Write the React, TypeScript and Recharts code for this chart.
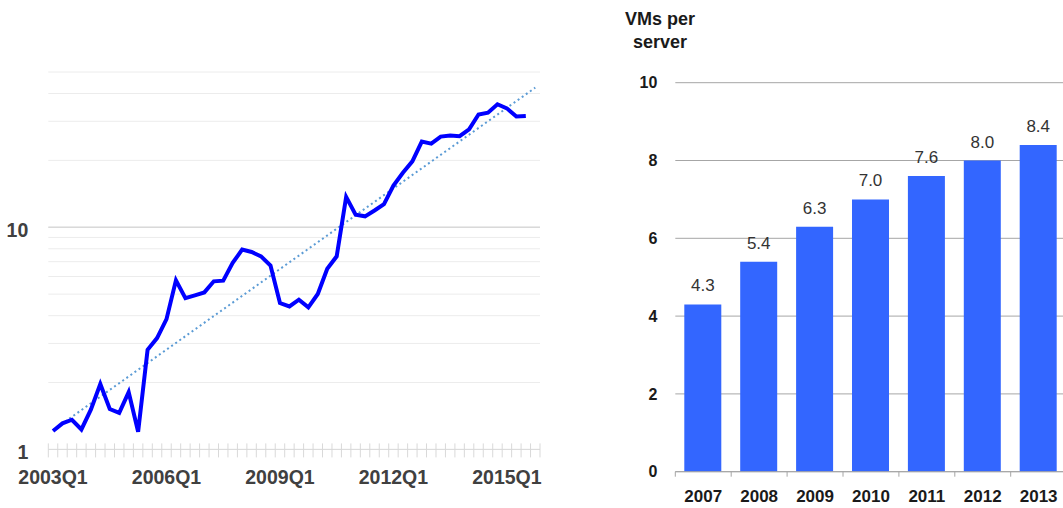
import React from "react";
import {
  LineChart,
  Line,
  XAxis,
  YAxis,
  CartesianGrid,
  ReferenceLine,
  BarChart,
  Bar,
  LabelList,
} from "recharts";

// left panel: quarterly index on a log axis
const years = [2003, 2004, 2005, 2006, 2007, 2008, 2009, 2010, 2011, 2012, 2013, 2014, 2015];
const quarterNames = ["Q1", "Q2", "Q3", "Q4"];
const quarters: string[] = years.flatMap((y) => quarterNames.map((q) => `${y}${q}`));

// 2003Q1 .. 2015Q3 (2015Q4 not reported)
const indexValues = [
  1.21, 1.31, 1.36, 1.23, 1.51, 1.97, 1.52, 1.46, 1.81, 1.2,
  2.81, 3.17, 3.86, 5.77, 4.8, 4.94, 5.09, 5.71, 5.75, 6.91,
  7.93, 7.74, 7.4, 6.72, 4.56, 4.4, 4.72, 4.36, 5.01, 6.51,
  7.4, 13.7, 11.4, 11.2, 11.9, 12.7, 15.4, 17.6, 19.8, 24.3,
  23.8, 25.6, 25.9, 25.7, 27.6, 32.2, 32.8, 35.8, 34.3, 31.5,
  31.7,
];

// exponential trend: first and last value only (straight on the log axis)
const trendEnds = [1.22, 42.5];

const logTicks = [1, 2, 3, 4, 5, 6, 7, 8, 9, 10, 20, 30, 40, 50];
const logLabels = [1, 10];

// right panel: VMs per server
const vmYears = ["2007", "2008", "2009", "2010", "2011", "2012", "2013"];
const vmValues = [4.3, 5.4, 6.3, 7.0, 7.6, 8.0, 8.4];
const vmTicks = [0, 2, 4, 6, 8, 10];

const lineData = quarters.map((q, i) => ({
  q,
  value: i < indexValues.length ? indexValues[i] : null,
  trend: i === 0 ? trendEnds[0] : i === quarters.length - 1 ? trendEnds[1] : null,
}));

const barData = vmYears.map((year, i) => ({ year, value: vmValues[i] }));

const FONT = "'Liberation Sans', Arial, sans-serif";

const LEFT_W = 560;
const LEFT_PLOT_L = 48.3;
const LEFT_PLOT_R = 540;
const LEFT_STEP = (LEFT_PLOT_R - LEFT_PLOT_L) / quarters.length;

const RIGHT_X = 600;
const RIGHT_W = 480;
const RIGHT_PLOT_L = 675.3;
const RIGHT_PLOT_R = 1066.6;
const RIGHT_STEP = (RIGHT_PLOT_R - RIGHT_PLOT_L) / vmYears.length;

const QuarterTick = (props: any) => {
  const { x, y, payload } = props;
  const index = props.index ?? payload.index;
  const half = LEFT_STEP / 2;
  return (
    <g>
      <line x1={x - half} x2={x - half} y1={y - 6} y2={y + 8} stroke="#d9d9d9" />
      {index === quarters.length - 1 && (
        <line x1={x + half} x2={x + half} y1={y - 6} y2={y + 8} stroke="#d9d9d9" />
      )}
      {index % 12 === 0 && (
        <text
          x={x}
          y={y + 35}
          textAnchor="middle"
          fontFamily={FONT}
          fontWeight="bold"
          fontSize={19.5}
          fill="#404040"
        >
          {payload.value}
        </text>
      )}
    </g>
  );
};

const LogTick = (props: any) => {
  const { x, y, payload } = props;
  if (!logLabels.includes(payload.value)) return null;
  return (
    <text
      x={x}
      y={y + 10}
      textAnchor="end"
      fontFamily={FONT}
      fontWeight="bold"
      fontSize={19.5}
      fill="#404040"
    >
      {payload.value}
    </text>
  );
};

const YearTick = (props: any) => {
  const { x, y, payload } = props;
  const index = props.index ?? payload.index;
  const half = RIGHT_STEP / 2;
  return (
    <g>
      <line x1={x - half} x2={x - half} y1={y} y2={y + 5} stroke="#a6a6a6" />
      {index === vmYears.length - 1 && (
        <line x1={x + half} x2={x + half} y1={y} y2={y + 5} stroke="#a6a6a6" />
      )}
      <text
        x={x}
        y={y + 30}
        textAnchor="middle"
        fontFamily={FONT}
        fontWeight="bold"
        fontSize={17}
        fill="#1a1a1a"
      >
        {payload.value}
      </text>
    </g>
  );
};

export default function App() {
  return (
    <div
      style={{
        position: "absolute",
        left: 0,
        top: 0,
        width: 1063,
        height: 508,
        overflow: "hidden",
        background: "#fff",
      }}
    >
      <div style={{ position: "absolute", left: 0, top: 0 }}>
        <LineChart
          width={LEFT_W}
          height={508}
          data={lineData}
          margin={{ top: 72, right: LEFT_W - LEFT_PLOT_R, bottom: 18.6, left: 8.3 }}
        >
          <CartesianGrid horizontal vertical={false} stroke="#ececec" />
          <ReferenceLine y={10} stroke="#d9d9d9" strokeWidth={1.5} />
          <XAxis
            dataKey="q"
            interval={0}
            padding={{ left: LEFT_STEP / 2, right: LEFT_STEP / 2 }}
            tickLine={false}
            tickSize={0}
            tickMargin={0}
            height={40}
            axisLine={{ stroke: "#d9d9d9" }}
            tick={<QuarterTick />}
          />
          <YAxis
            type="number"
            scale="log"
            domain={[1, 50]}
            ticks={logTicks}
            interval={0}
            allowDataOverflow
            axisLine={false}
            tickLine={false}
            tickSize={0}
            tickMargin={20}
            width={40}
            tick={<LogTick />}
          />
          <Line
            dataKey="trend"
            stroke="#5b9bd5"
            strokeWidth={2}
            strokeDasharray="2 3"
            dot={false}
            connectNulls
            isAnimationActive={false}
          />
          <Line
            dataKey="value"
            stroke="#0000ff"
            strokeWidth={4}
            dot={false}
            isAnimationActive={false}
          />
        </LineChart>
      </div>

      <div
        style={{
          position: "absolute",
          left: 615,
          top: 8,
          width: 90,
          textAlign: "center",
          fontFamily: FONT,
          fontWeight: "bold",
          fontSize: 18,
          lineHeight: "23px",
          color: "#1a1a1a",
        }}
      >
        VMs per
        <br />
        server
      </div>

      <div style={{ position: "absolute", left: RIGHT_X, top: 0 }}>
        <BarChart
          width={RIGHT_W}
          height={508}
          data={barData}
          margin={{
            top: 82.7,
            right: RIGHT_W - (RIGHT_PLOT_R - RIGHT_X),
            bottom: 6.3,
            left: 0,
          }}
        >
          <CartesianGrid horizontal vertical={false} stroke="#a6a6a6" />
          <XAxis
            dataKey="year"
            interval={0}
            tickLine={false}
            tickSize={0}
            tickMargin={0}
            height={30}
            axisLine={{ stroke: "#a6a6a6" }}
            tick={<YearTick />}
          />
          <YAxis
            type="number"
            domain={[0, 10]}
            ticks={vmTicks}
            interval={0}
            axisLine={false}
            tickLine={false}
            tickSize={0}
            tickMargin={18}
            width={RIGHT_PLOT_L - RIGHT_X}
            tick={{
              fontFamily: FONT,
              fontWeight: "bold",
              fontSize: 16,
              fill: "#1a1a1a",
            }}
          />
          <Bar dataKey="value" fill="#3366ff" barSize={37} isAnimationActive={false}>
            <LabelList
              dataKey="value"
              position="top"
              offset={13}
              formatter={(v: any) => Number(v).toFixed(1)}
              fontFamily={FONT}
              fontSize={17}
              fill="#333"
            />
          </Bar>
        </BarChart>
      </div>
    </div>
  );
}
